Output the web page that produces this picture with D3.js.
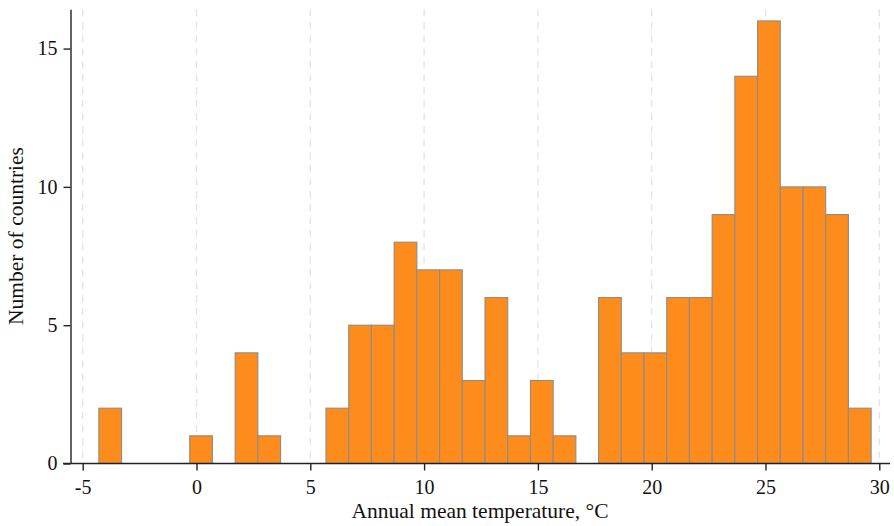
<!DOCTYPE html>
<html>
<head>
<meta charset="utf-8">
<script src="https://cdn.jsdelivr.net/npm/d3@7"></script>
<style>
    body { margin: 0; background: #fff; }
    svg { display: block; font-family: "Liberation Serif", "Times New Roman", serif; }
</style>
</head>
<body>
<svg id="chart" width="894" height="526"></svg>
<script>
// Histogram bins: first edge, width and count per bin
const binStart = -4.29;
const binWidth = 0.998;
const counts = [2, 0, 0, 0, 1, 0, 4, 1, 0, 0, 2, 5, 5, 8, 7, 7, 3, 6, 1, 3, 1, 0, 6, 4, 4, 6, 6, 9, 14, 16, 10, 10, 9, 2];

// Tick labels
const xTicks = [-5, 0, 5, 10, 15, 20, 25, 30];
const yTicks = [0, 5, 10, 15];

const xTitle = 'Annual mean temperature, °C';
const yTitle = 'Number of countries';

const svg = d3.select('#chart');

// Scales
const x = d3.scaleLinear()
    .domain([-5, 30])
    .range([82.7, 879.3]);

const y = d3.scaleLinear()
    .domain([0, 16.42])
    .range([463.5, 9.3]);

const bins = counts.map((c, i) => ({
    x0: binStart + i * binWidth,
    x1: binStart + (i + 1) * binWidth,
    count: c
}));

// Dashed vertical grid lines
svg.append('g')
    .selectAll('line')
    .data(xTicks)
    .join('line')
    .attr('x1', d => x(d))
    .attr('x2', d => x(d))
    .attr('y1', y.range()[1])
    .attr('y2', y(0))
    .attr('stroke', '#e3e3e3')
    .attr('stroke-width', 1.3)
    .attr('stroke-dasharray', '7,6');

// Bars
svg.append('g')
    .selectAll('rect')
    .data(bins.filter(d => d.count > 0))
    .join('rect')
    .attr('x', d => x(d.x0))
    .attr('y', d => y(d.count))
    .attr('width', d => x(d.x1) - x(d.x0))
    .attr('height', d => y(0) - y(d.count))
    .attr('fill', '#fd8c1c')
    .attr('stroke', '#8c8c8c')
    .attr('stroke-width', 1.1);

// Shared axis styling: serif text, dark lines
function axisStyle(g) {
    g.attr('font-family', null).attr('font-size', 20);
    g.selectAll('text').attr('fill', '#111');
    g.selectAll('line, path').attr('stroke', '#222').attr('stroke-width', 1.4);
}

// Y axis
const yAxis = d3.axisLeft(y)
    .tickValues(yTicks)
    .tickSize(7)
    .tickPadding(6)
    .tickSizeOuter(0);

svg.append('g')
    .attr('transform', 'translate(70.5,0)')
    .call(yAxis)
    .call(axisStyle);

// X axis
const xAxis = d3.axisBottom(x)
    .tickValues(xTicks)
    .tickFormat(d => String(d))
    .tickSize(7)
    .tickPadding(9)
    .tickSizeOuter(0);

svg.append('g')
    .attr('transform', `translate(0,${y(0)})`)
    .call(xAxis)
    .call(g => g.select('.domain').remove())
    .call(axisStyle);

// Baseline across the plot
svg.append('line')
    .attr('x1', 63)
    .attr('x2', 890)
    .attr('y1', y(0))
    .attr('y2', y(0))
    .attr('stroke', '#222')
    .attr('stroke-width', 1.4);

// Axis titles
svg.append('text')
    .attr('x', 480)
    .attr('y', 518)
    .attr('text-anchor', 'middle')
    .attr('font-size', 21.5)
    .attr('fill', '#111')
    .text(xTitle);

svg.append('text')
    .attr('transform', 'translate(23,236) rotate(-90)')
    .attr('text-anchor', 'middle')
    .attr('font-size', 21.5)
    .attr('fill', '#111')
    .text(yTitle);
</script>
</body>
</html>
